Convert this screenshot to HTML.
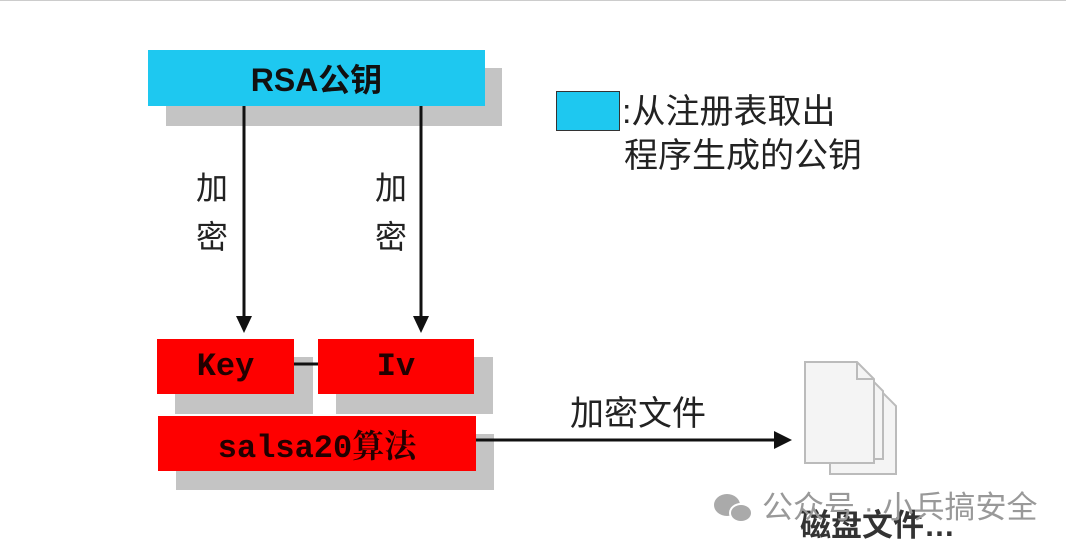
<!DOCTYPE html>
<html><head><meta charset="utf-8"><style>
body{margin:0;width:1066px;height:550px;background:#fff;position:relative;overflow:hidden;font-family:"Liberation Sans","Noto Sans CJK SC",sans-serif}
.a{position:absolute}
.sh{position:absolute;background:#c4c4c4}
.r{position:absolute;background:#fe0000;color:#200;font-family:"Liberation Mono","Noto Serif CJK SC",monospace;font-weight:bold;font-size:32px;display:flex;align-items:center;justify-content:center}
.t{position:absolute;font-size:34px;color:#222;white-space:nowrap;line-height:40px}
svg{z-index:2}
</style></head><body>
<div class="a" style="left:0;top:0;width:1066px;height:1px;background:#ccc"></div>
<div class="sh" style="left:166px;top:68px;width:336px;height:58px"></div>
<div class="a" style="left:148px;top:50px;width:337px;height:56px;background:#1ec8f0;display:flex;align-items:center;justify-content:center;font-size:32px;font-weight:bold;color:#111;font-family:'Liberation Sans','Noto Sans CJK SC',sans-serif">RSA公钥</div>
<div class="a" style="left:556px;top:91px;width:62px;height:38px;background:#1ec8f0;border:1px solid #333"></div>
<div class="t" style="left:622px;top:92px">:从注册表取出</div>
<div class="t" style="left:624px;top:136px">程序生成的公钥</div>
<div class="t" style="left:196px;top:168px;font-size:32px">加</div>
<div class="t" style="left:196px;top:217px;font-size:32px">密</div>
<div class="t" style="left:375px;top:168px;font-size:32px">加</div>
<div class="t" style="left:375px;top:217px;font-size:32px">密</div>
<div class="sh" style="left:175px;top:357px;width:138px;height:57px"></div>
<div class="sh" style="left:336px;top:357px;width:157px;height:57px"></div>
<div class="sh" style="left:176px;top:434px;width:318px;height:56px"></div>
<div class="r" style="left:157px;top:339px;width:137px;height:55px">Key</div>
<div class="r" style="left:318px;top:339px;width:156px;height:55px">Iv</div>
<div class="r" style="left:158px;top:416px;width:318px;height:55px">salsa20算法</div>
<svg class="a" style="left:0;top:0" width="1066" height="550">
<line x1="244" y1="106" x2="244" y2="318" stroke="#111" stroke-width="3"/>
<polygon points="236,316 252,316 244,333" fill="#111"/>
<line x1="421" y1="106" x2="421" y2="318" stroke="#111" stroke-width="3"/>
<polygon points="413,316 429,316 421,333" fill="#111"/>
<line x1="294" y1="364" x2="318" y2="364" stroke="#111" stroke-width="3"/>
<line x1="476" y1="440" x2="778" y2="440" stroke="#111" stroke-width="3"/>
<polygon points="774,431 792,440 774,449" fill="#111"/>
<g fill="#f4f4f4" stroke="#bbb" stroke-width="2">
<path d="M830 392 h52 l14 14 v68 h-66z"/>
<path d="M817 377 h52 l14 14 v68 h-66z"/>
<path d="M805 362 h52 l17 17 v84 h-69z"/>
<path d="M857 362 v17 h17" fill="none"/>
</g>
<g fill="#aaa"><ellipse cx="727" cy="505" rx="13" ry="11"/><ellipse cx="741" cy="513" rx="11" ry="9" stroke="#fff" stroke-width="2"/></g>
</svg>
<div class="t" style="left:570px;top:394px">加密文件</div>
<div class="t" style="left:800px;top:506px;font-weight:bold;color:#333;font-size:31px">磁盘文件…</div>
<div class="t" style="left:762px;top:488px;color:#999;font-size:31px;z-index:3">公众号 · 小兵搞安全</div>
</body></html>
